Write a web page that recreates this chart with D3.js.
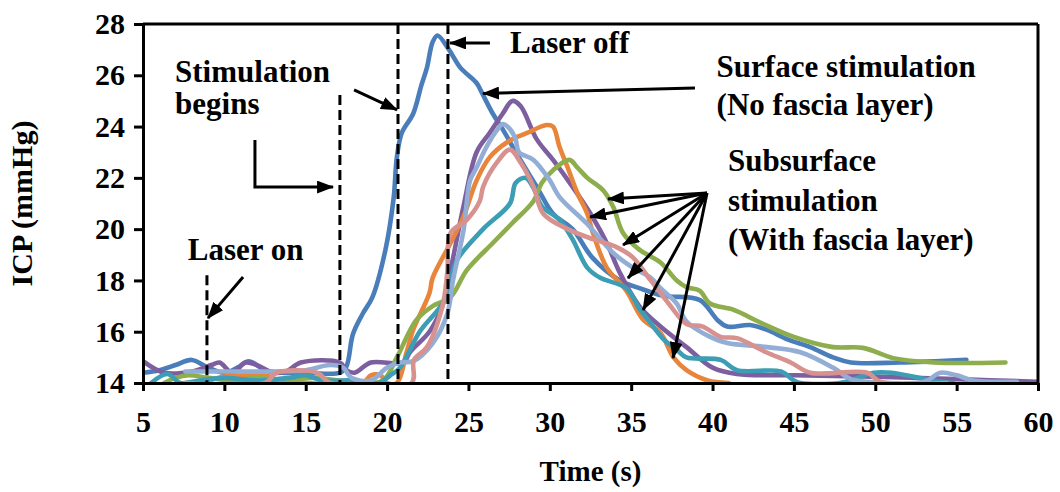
<!DOCTYPE html>
<html>
<head>
<meta charset="utf-8">
<script src="https://cdn.jsdelivr.net/npm/d3@7"></script>
<style>
  body { margin: 0; background: #fff; }
  svg text { font-family: "Liberation Serif", "Times New Roman", serif; font-weight: bold; fill: #000; }
</style>
</head>
<body>
<svg id="chart" width="1060" height="492"></svg>
<script>
// ICP traces, [time (s), ICP (mmHg)]
var surface = [[5,14.4],[6,14.5],[7,14.7],[8,14.9],[9,14.6],[10,14.4],[10.8,14.6],[11.5,14.85],[12.5,14.5],[13.5,14.4],[15,14.4],[17.1,14.4],[17.5,14.65],[17.9,15.9],[18.5,16.7],[19.1,17.35],[19.9,19.2],[20.4,21.2],[20.6,22.8],[20.9,23.75],[21.6,24.5],[22.1,25.6],[22.45,26.3],[22.8,27.3],[23.1,27.55],[23.8,27.0],[24.5,26.3],[25.5,25.7],[25.8,25.35],[26.5,24.5],[27.1,23.9],[28,22.9],[29.2,21.65],[30.2,20.6],[31.4,20.0],[32.6,18.9],[34.3,18.0],[35.5,17.7],[37,17.4],[39.2,17.24],[40.3,16.46],[40.9,16.2],[42.3,16.26],[43.35,16.07],[44.6,15.7],[46,15.4],[47.4,15.0],[48.5,14.8],[51.5,14.8],[55.6,14.9]];
var subPurple = [[5,14.85],[6.3,14.4],[8,14.45],[9.2,14.7],[9.7,14.8],[10.5,14.4],[11.3,14.8],[12,14.7],[13,14.4],[13.8,14.45],[14.7,14.8],[17.1,14.8],[17.5,14.5],[18,14.4],[19,14.8],[21,14.8],[21.4,15.2],[22.6,16.0],[23.4,17.0],[23.9,18.4],[24.7,20.9],[25.5,23.0],[26.3,23.75],[27.1,24.5],[27.7,25.0],[28.2,24.8],[29.2,23.5],[30.2,22.7],[31.4,21.65],[32.5,20.6],[33.5,19.46],[34.3,18.3],[35.5,17.0],[36.8,16.2],[38.4,15.4],[40,14.6],[41.5,14.35],[45,14.3],[50,14.25],[55,14.15],[60,14.05]];
var subOrange = [[7.6,14.0],[9,14.1],[10,14.25],[11.5,14.3],[12.5,14.3],[13.5,14.05],[15,14.0],[18.5,14.0],[19,14.3],[19.6,14.3],[20,14.0],[20.6,14.0],[21.2,15.2],[21.6,16.07],[22.6,17.5],[22.8,18.1],[23.9,19.46],[24.7,20.5],[25.5,21.9],[26.3,22.8],[27.4,23.4],[28.6,23.75],[29.8,24.06],[30.2,24.0],[30.6,23.2],[31.1,22.4],[31.7,21.4],[32.3,20.6],[32.65,19.85],[33.5,18.5],[34.7,17.6],[35.7,16.5],[36.8,15.95],[37.6,15.0],[38.4,14.5],[39.7,14.1],[41,14.0]];
var subGreen = [[6.3,14.0],[7,14.2],[7.8,14.3],[9,14.2],[10.5,14.1],[12,14.2],[13.5,14.1],[15.5,14.2],[17,14.1],[18.5,14.0],[19.75,14.1],[20.6,15.0],[21.8,16.46],[22.8,17.0],[23.9,17.35],[24.9,18.4],[26.5,19.46],[27.7,20.24],[29,21.1],[29.5,21.8],[30.2,22.3],[31.2,22.7],[31.7,22.4],[32.3,22.0],[33.3,21.5],[33.9,20.86],[34.5,19.85],[35.5,19.2],[36.8,18.7],[37.8,18.0],[38.4,17.74],[39.2,17.6],[39.85,17.1],[41.3,16.85],[43,16.34],[45,15.8],[47.4,15.4],[49.25,15.37],[51.1,14.97],[53.6,14.8],[58,14.8]];
var subTeal = [[5.5,14.0],[6.5,14.35],[7.3,14.0],[8.5,14.1],[10,14.2],[12,14.1],[14,14.2],[15,14.3],[16,14.1],[18,14.1],[19.5,14.0],[20.2,14.3],[20.8,14.6],[22,16.0],[23.4,17.1],[23.9,18.0],[24.3,18.8],[25.9,20.0],[27.55,21.0],[27.9,21.8],[28.5,22.0],[29,21.6],[29.5,20.9],[30.6,20.36],[31.4,19.6],[32.3,18.5],[33.1,18.1],[34.7,17.7],[35.5,16.9],[36,16.5],[37,15.7],[37.8,15.3],[38.4,15.0],[40.5,14.9],[41.5,14.5],[44.2,14.45],[45,14.1],[45.4,14.0],[47.8,14.0],[48.9,14.2],[49.9,14.4],[51,14.4],[53.5,14.1],[54.8,14.0]];
var subLightBlue = [[7.6,14.45],[10,14.45],[13,14.45],[15,14.5],[16.5,14.7],[17.3,14.6],[17.8,14.2],[19,14.1],[20,14.6],[20.8,14.8],[21.6,14.85],[22.8,15.55],[23.7,16.7],[24.05,18.0],[24.7,19.96],[25.1,21.9],[25.5,22.4],[26.1,23.2],[26.8,23.9],[27.1,24.1],[27.55,23.9],[27.9,23.5],[28.1,23.0],[29,22.7],[30,21.9],[30.6,21.25],[32.3,20.2],[33.9,19.07],[35.1,18.5],[36.2,18.1],[36.8,17.7],[37.8,17.1],[38.4,16.4],[39.85,15.8],[40.9,15.56],[43.35,15.4],[45.4,15.2],[47.4,14.6],[48.5,14.15],[49.5,14.05],[53,14.05],[54,14.4],[55,14.3],[56,14.1],[58.7,14.05]];
var subPink = [[7.6,14.0],[12.5,14.0],[13.2,14.4],[15.7,14.4],[16.5,14.0],[21.5,14.0],[21.65,14.9],[22.45,15.4],[23.4,17.0],[23.7,18.3],[23.9,19.85],[24.9,20.36],[25.7,21.1],[25.9,21.65],[26.75,22.6],[27.55,23.1],[28.2,22.6],[29,21.65],[29.6,20.6],[31.1,20.0],[32.7,19.6],[34.1,19.3],[35.1,18.9],[36.2,18.0],[37.3,17.1],[38.4,16.3],[39.4,16.2],[40.5,15.8],[41.5,15.75],[43.3,15.2],[44.8,14.8],[46,14.4],[49.5,14.4],[50.3,14.05],[54.4,14.0]];

var seriesData = [surface, subPurple, subOrange, subGreen, subTeal, subLightBlue, subPink];
var seriesColors = ["#4A7EBB", "#7D5FA0", "#E9853A", "#8EAD4C", "#3C9DB5", "#93AED6", "#D79290"];

var xTicks = [5, 10, 15, 20, 25, 30, 35, 40, 45, 50, 55, 60];
var yTicks = [14, 16, 18, 20, 22, 24, 26, 28];

// dashed markers: [time, top ICP]
var markers = [[8.93, 18.2], [17.1, 25.23], [20.67, 28], [23.74, 28]];

// annotation text: [time, ICP, label]
var labels = [
  [6.97, 25.74, "Stimulation"],
  [6.97, 24.48, "begins"],
  [7.75, 18.8, "Laser on"],
  [27.56, 26.88, "Laser off"],
  [40.25, 25.95, "Surface stimulation"],
  [40.25, 24.45, "(No fascia layer)"],
  [40.95, 22.25, "Subsurface"],
  [40.95, 20.72, "stimulation"],
  [40.95, 19.18, "(With fascia layer)"]
];

// arrows as polylines in [time, ICP]
var arrows = [
  [[11.15, 18.13], [8.99, 16.53]],
  [[11.88, 23.48], [11.88, 21.64], [16.68, 21.64]],
  [[17.97, 25.43], [20.61, 24.65]],
  [[26.32, 27.26], [23.87, 27.26]],
  [[38.92, 25.5], [25.89, 25.29]]
];
var fanFrom = [39.66, 21.41];
var fanTo = [[33.57, 21.18], [32.47, 20.47], [34.5, 19.38], [34.8, 18.09], [35.73, 16.85], [37.57, 14.97]];

var margin = {top: 24, right: 22, bottom: 109, left: 143};
var width = 1060 - margin.left - margin.right;
var height = 492 - margin.top - margin.bottom;

var svg = d3.select("#chart");
var defs = svg.append("defs");
defs.append("marker")
  .attr("id", "head")
  .attr("markerUnits", "userSpaceOnUse")
  .attr("viewBox", "0 0 17 13")
  .attr("refX", 16).attr("refY", 6.5)
  .attr("markerWidth", 17).attr("markerHeight", 13)
  .attr("orient", "auto")
  .append("path").attr("d", "M0,0 L17,6.5 L0,13 Z").attr("fill", "#000");

var g = svg.append("g").attr("transform", "translate(" + margin.left + "," + margin.top + ")");

var x = d3.scaleLinear().domain([5, 60]).range([0, width]);
var y = d3.scaleLinear().domain([14, 28]).range([height, 0]);

var line = d3.line()
  .x(function(d) { return x(d[0]); })
  .y(function(d) { return y(d[1]); })
  .curve(d3.curveCatmullRom.alpha(0.5));

defs.append("clipPath").attr("id", "plot")
  .append("rect").attr("x", 0).attr("y", -2).attr("width", width).attr("height", height + 4);

g.append("g").attr("clip-path", "url(#plot)")
  .selectAll("path")
  .data(seriesData)
  .enter()
  .append("path")
  .attr("d", line)
  .attr("fill", "none")
  .attr("stroke", function(d, i) { return seriesColors[i]; })
  .attr("stroke-width", 4.6)
  .attr("stroke-linejoin", "round")
  .attr("stroke-linecap", "round");

// dashed lines
g.selectAll("line.marker")
  .data(markers)
  .enter()
  .append("line")
  .attr("class", "marker")
  .attr("x1", function(d) { return x(d[0]); })
  .attr("x2", function(d) { return x(d[0]); })
  .attr("y1", function(d) { return y(d[1]); })
  .attr("y2", y(14))
  .attr("stroke", "#000")
  .attr("stroke-width", 3)
  .attr("stroke-dasharray", "10,5");

// arrows
g.selectAll("path.arrow")
  .data(arrows)
  .enter()
  .append("path")
  .attr("class", "arrow")
  .attr("d", d3.line().x(function(d) { return x(d[0]); }).y(function(d) { return y(d[1]); }))
  .attr("fill", "none")
  .attr("stroke", "#000")
  .attr("stroke-width", 3)
  .attr("marker-end", "url(#head)");

g.selectAll("line.fan")
  .data(fanTo)
  .enter()
  .append("line")
  .attr("class", "fan")
  .attr("x1", x(fanFrom[0]))
  .attr("y1", y(fanFrom[1]))
  .attr("x2", function(d) { return x(d[0]); })
  .attr("y2", function(d) { return y(d[1]); })
  .attr("stroke", "#000")
  .attr("stroke-width", 3)
  .attr("marker-end", "url(#head)");

g.selectAll("text.note")
  .data(labels)
  .enter()
  .append("text")
  .attr("class", "note")
  .attr("x", function(d) { return x(d[0]); })
  .attr("y", function(d) { return y(d[1]); })
  .style("font-size", "31px")
  .text(function(d) { return d[2]; });

// axes
var xAxis = g.append("g")
  .attr("transform", "translate(0," + height + ")")
  .call(d3.axisBottom(x).tickValues(xTicks).tickSize(8).tickSizeOuter(0).tickPadding(20));
var yAxis = g.append("g")
  .call(d3.axisLeft(y).tickValues(yTicks).tickSize(9).tickSizeOuter(0).tickPadding(9));

[xAxis, yAxis].forEach(function(a) {
  a.select(".domain").attr("stroke", "#000").attr("stroke-width", 3);
  a.selectAll(".tick line").attr("stroke", "#000").attr("stroke-width", 3);
  a.selectAll(".tick text").style("font-size", "30px").style("font-family", "'Liberation Serif', 'Times New Roman', serif").style("font-weight", "bold");
});

// top and right frame
g.append("line").attr("x1", 0).attr("x2", width).attr("y1", 0).attr("y2", 0)
  .attr("stroke", "#000").attr("stroke-width", 3);
g.append("line").attr("x1", width).attr("x2", width).attr("y1", 0).attr("y2", height)
  .attr("stroke", "#000").attr("stroke-width", 3);

g.append("text")
  .attr("x", width / 2)
  .attr("y", height + 98)
  .attr("text-anchor", "middle")
  .style("font-size", "29px")
  .text("Time (s)");

g.append("text")
  .attr("transform", "translate(" + (-111) + "," + (height / 2) + ") rotate(-90)")
  .attr("text-anchor", "middle")
  .style("font-size", "30px")
  .text("ICP (mmHg)");
</script>
</body>
</html>
